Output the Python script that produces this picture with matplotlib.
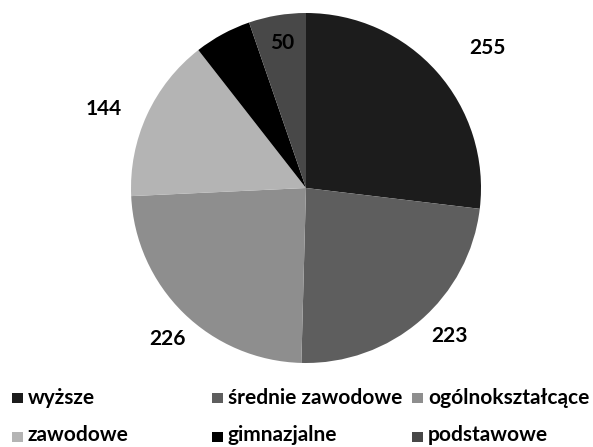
import numpy as np
import matplotlib
matplotlib.use("Agg")
import matplotlib.pyplot as plt
from matplotlib.patches import Rectangle

# ---- data ----
categories = ["wyższe", "średnie zawodowe", "ogólnokształcące",
              "zawodowe", "gimnazjalne", "podstawowe"]
values = [255, 223, 226, 144, 50, 50]
value_labels = ["255", "223", "226", "144", "50", "50"]

# ---- styles ----
colors = ["#1c1c1c", "#5e5e5e", "#8e8e8e", "#b4b4b4", "#000000", "#484848"]
label_colors = ["black", "black", "black", "black", "black", "black"]
label_radius = [1.31, 1.18, 1.17, 1.24, 0.84, 0.84]
label_shift_cw = [3.8, -3.3, -1.9, -3.4, 0.0, 0.3]   # degrees, clockwise
FONT = ["Lato", "DejaVu Sans"]
FS = 15

W, H = 593, 447
fig = plt.figure(figsize=(W / 100, H / 100), dpi=100)
fig.patch.set_facecolor("white")

cx, cy, R = 306, 188, 175
ax = fig.add_axes([(cx - R) / W, (H - cy - R) / H, 2 * R / W, 2 * R / H])
wedges, _ = ax.pie(values, colors=colors, startangle=90, counterclock=False,
                   radius=1, wedgeprops=dict(linewidth=0))
ax.set_xlim(-1, 1)
ax.set_ylim(-1, 1)
ax.set_aspect("equal")
ax.axis("off")

for w, lab, r, sh, c in zip(wedges, value_labels, label_radius,
                            label_shift_cw, label_colors):
    mid = np.deg2rad((w.theta1 + w.theta2) / 2 - sh)
    ax.text(r * np.cos(mid), r * np.sin(mid), lab, ha="center", va="center",
            fontsize=FS, fontweight="bold", color=c, family=FONT, clip_on=False)

# ---- legend (two rows of three) ----
legend_cols_px = [12, 212, 412]
marker_top_px = [393, 432]
baseline_px = [404, 441]
order = [[0, 1, 2], [3, 4, 5]]
mw, mh = 11, 10
for ri, row in enumerate(order):
    for ci, idx in enumerate(row):
        x = legend_cols_px[ci]
        fig.add_artist(Rectangle((x / W, (H - marker_top_px[ri] - mh) / H),
                                 mw / W, mh / H, transform=fig.transFigure,
                                 facecolor=colors[idx], edgecolor="none"))
        fig.text((x + mw + 5) / W, (H - baseline_px[ri]) / H, categories[idx],
                 ha="left", va="baseline", fontsize=FS, fontweight="bold",
                 family=FONT)

fig.savefig("out.png", dpi=100)
